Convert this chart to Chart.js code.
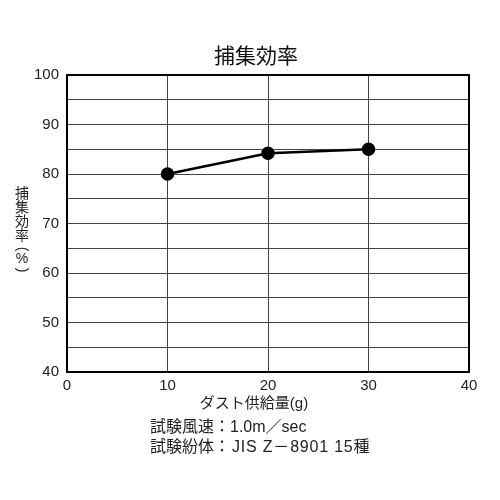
<!DOCTYPE html>
<html>
<head>
<meta charset="utf-8">
<script src="https://cdn.jsdelivr.net/npm/chart.js@4"></script>
<style>
  body { margin: 0; background: #fff; }
</style>
</head>
<body>
<canvas id="chart" width="500" height="500"></canvas>
<script>
// data
const dustAmount = [10, 20, 30];
const efficiency = [80, 84.2, 85];
const xTicks = [0, 10, 20, 30, 40];
const yTicks = [40, 50, 60, 70, 80, 90, 100];
const titleText = '捕集効率';
const xTitle = 'ダスト供給量(g)';
const yTitleChars = ['捕', '集', '効', '率'];
const notes = ['試験風速：1.0m／sec', '試験紛体：', 'JIS Z－8901 15種'];

const FONT = "'Liberation Sans', 'Noto Sans CJK JP', sans-serif";

const extras = {
  id: 'extras',
  afterDraw(chart) {
    const ctx = chart.ctx;
    const a = chart.chartArea;
    ctx.save();
    ctx.strokeStyle = '#000';
    ctx.lineWidth = 2;
    ctx.strokeRect(a.left, a.top, a.right - a.left, a.bottom - a.top);

    ctx.fillStyle = '#111';
    ctx.textAlign = 'center';
    ctx.textBaseline = 'middle';
    ctx.font = '21px ' + FONT;
    ctx.fillText(titleText, 256, 57);

    ctx.fillStyle = '#222';
    ctx.font = '15px ' + FONT;
    ctx.fillText(xTitle, 254, 404);

    // vertical y axis title
    ctx.font = '14px ' + FONT;
    yTitleChars.forEach((c, i) => ctx.fillText(c, 22, 194 + i * 14));
    ctx.fillText('%', 22, 259);
    [['(', 249], [')', 270]].forEach(([p, y]) => {
      ctx.save();
      ctx.translate(22, y);
      ctx.rotate(Math.PI / 2);
      ctx.fillText(p, 0, 0);
      ctx.restore();
    });

    ctx.textAlign = 'left';
    ctx.font = '16px ' + FONT;
    ctx.fillText(notes[0], 150, 428);
    ctx.fillText(notes[1], 150, 448);
    ctx.letterSpacing = '0.8px';
    ctx.fillText(notes[2], 232, 448);
    ctx.restore();
  }
};

new Chart(document.getElementById('chart'), {
  type: 'line',
  data: {
    datasets: [{
      data: dustAmount.map((x, i) => ({ x: x, y: efficiency[i] })),
      borderColor: '#000',
      backgroundColor: '#000',
      borderWidth: 2.5,
      pointRadius: 5.5,
      tension: 0
    }]
  },
  options: {
    responsive: false,
    animation: false,
    layout: { padding: { left: 0, right: 31, top: 75, bottom: 100 } },
    plugins: {
      legend: { display: false },
      tooltip: { enabled: false },
      title: { display: false }
    },
    scales: {
      x: {
        type: 'linear',
        min: xTicks[0],
        max: xTicks[xTicks.length - 1],
        afterBuildTicks: s => { s.ticks = xTicks.map(v => ({ value: v })); },
        grid: { color: '#444', lineWidth: 1, drawTicks: false },
        border: { color: '#000', width: 2 },
        ticks: { color: '#222', font: { family: FONT, size: 15 }, padding: 5 },
        afterFit: s => { s.height = 28; }
      },
      y: {
        min: yTicks[0],
        max: yTicks[yTicks.length - 1],
        ticks: {
          stepSize: 5,
          color: '#222',
          font: { family: FONT, size: 15 },
          padding: 8,
          callback: v => (yTicks.includes(v) ? v : '')
        },
        grid: { color: '#444', lineWidth: 1, drawTicks: false },
        border: { color: '#000', width: 2 },
        afterFit: s => { s.width = 67; }
      }
    }
  },
  plugins: [extras]
});
</script>
</body>
</html>
